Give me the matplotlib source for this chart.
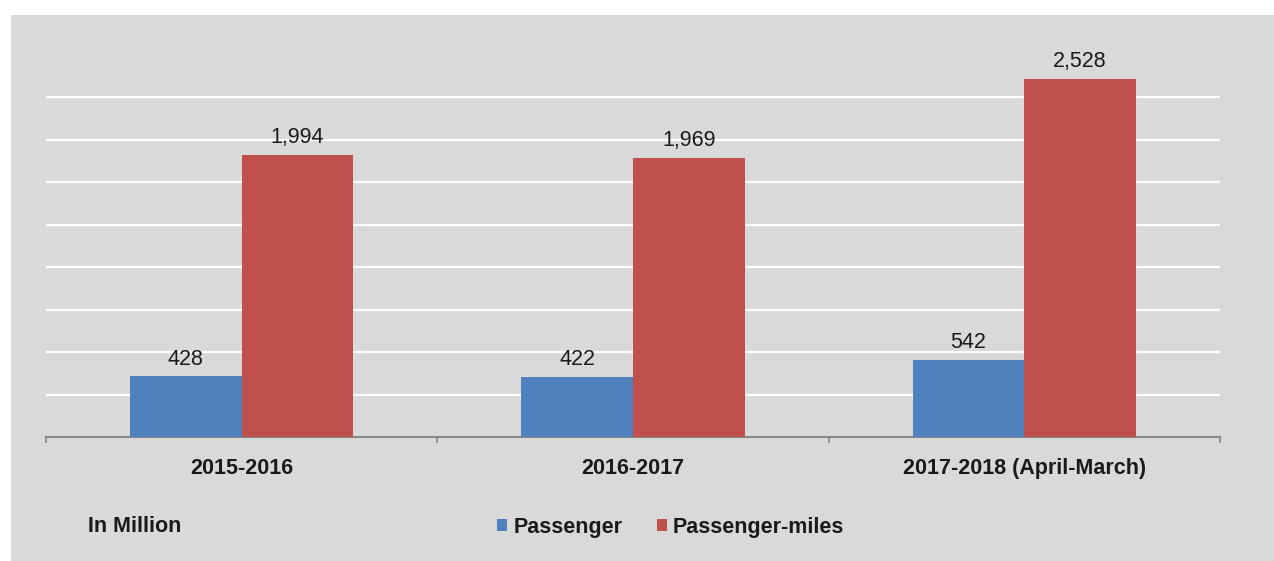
import numpy as np
import matplotlib.pyplot as plt

plt.rcParams['font.family'] = ['Liberation Sans', 'DejaVu Sans']

# --- Données ---
categories = ["2015-2016", "2016-2017", "2017-2018 (April-March)"]
passenger = [428, 422, 542]
passenger_miles = [1994, 1969, 2528]
series_names = ["Passenger", "Passenger-miles"]

W, H = 1274, 561
fig = plt.figure(figsize=(W / 100, H / 100), dpi=100)
fig.patch.set_facecolor("white")

# fond gris du graphique
bg = fig.add_axes([11 / W, 0, 1 - 11 / W, 1 - 15 / H], zorder=-1)
bg.set_facecolor("#d9d9d9")
bg.set_xticks([])
bg.set_yticks([])
for s in bg.spines.values():
    s.set_visible(False)

ax = fig.add_axes([46 / W, (H - 437) / H, (1220 - 46) / W, (437 - 55) / H])
ax.set_facecolor("none")

x = np.arange(len(categories))
bw = 0.285
blue, red = "#4f81bd", "#c0504d"

b1 = ax.bar(x - bw / 2, passenger, bw, color=blue, zorder=3)
b2 = ax.bar(x + bw / 2, passenger_miles, bw, color=red, zorder=3)

for bars, vals in [(b1, passenger), (b2, passenger_miles)]:
    for rect, v in zip(bars, vals):
        ax.annotate(f"{v:,}", (rect.get_x() + rect.get_width() / 2, v),
                    xytext=(0, 5), textcoords="offset points",
                    ha="center", va="bottom", fontsize=15.5, color="#1a1a1a")

ax.set_xlim(-0.5, 2.5)
ax.set_ylim(0, 2700)
ax.set_yticks(np.arange(300, 2401, 300))
ax.yaxis.grid(True, color="white", linewidth=1.6, zorder=1)
ax.tick_params(axis="y", length=0, labelleft=False)

ax.set_xticks(x)
ax.set_xticklabels(categories, fontsize=15.5, fontweight="bold", color="#1a1a1a")
ax.tick_params(axis="x", length=0, pad=15)
ax.set_xticks([-0.5, 0.5, 1.5, 2.5], minor=True)
ax.tick_params(axis="x", which="minor", length=4, color="#888888", width=1.2)

for s in ["top", "right", "left"]:
    ax.spines[s].set_visible(False)
ax.spines["bottom"].set_color("#888888")
ax.spines["bottom"].set_linewidth(1.5)

# texte et légende du bas
fig.text(88 / W, 1 - 527 / H, "In Million", fontsize=15.5, fontweight="bold",
         color="#1a1a1a", va="center")
leg = fig.legend([b1, b2], series_names, loc="center left",
                 bbox_to_anchor=(478 / W, 1 - 527 / H), ncol=2, frameon=False,
                 handlelength=0.45, handleheight=0.45, handletextpad=0.3,
                 columnspacing=1.6, prop={"size": 15.5, "weight": "bold"})
for t in leg.get_texts():
    t.set_color("#1a1a1a")

fig.savefig("out.png", dpi=100)
